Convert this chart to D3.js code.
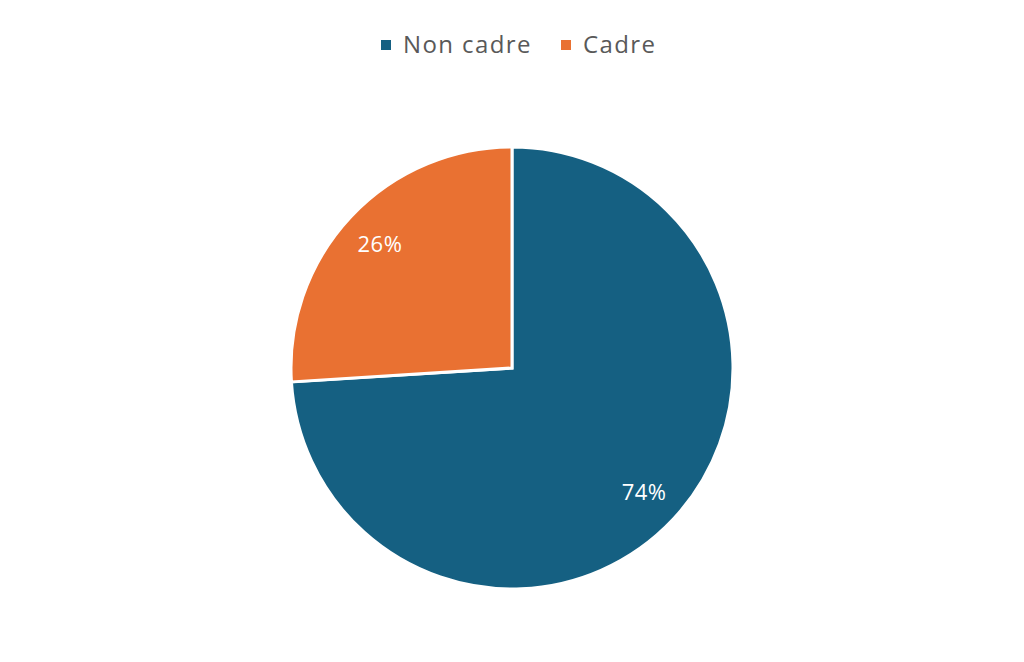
<!DOCTYPE html>
<html>
<head>
<meta charset="utf-8">
<script src="https://cdn.jsdelivr.net/npm/d3@7"></script>
<style>
  body { margin: 0; background: #fff; }
  svg { display: block; }
</style>
</head>
<body>
<svg></svg>
<script>
const categories = ["Non cadre", "Cadre"];
const values = [74, 26];
const colors = ["#156082", "#E97132"];

const width = 1024, height = 662;
const cx = 512, cy = 368, radius = 221;

const svg = d3.select("svg")
    .attr("width", width)
    .attr("height", height);

const pie = d3.pie().sort(null).value(d => d.value);
const arcs = pie(categories.map((c, i) => ({name: c, value: values[i]})));

const arc = d3.arc().innerRadius(0).outerRadius(radius);
const labelArc = d3.arc().innerRadius(radius * 0.82).outerRadius(radius * 0.82);

const total = d3.sum(values);

const g = svg.append("g")
    .attr("transform", "translate(" + cx + "," + cy + ")");

g.selectAll("path")
    .data(arcs)
    .enter()
    .append("path")
    .attr("d", arc)
    .attr("fill", (d, i) => colors[i])
    .attr("stroke", "#fff")
    .attr("stroke-width", 3)
    .attr("stroke-linejoin", "miter");

g.selectAll("text.label")
    .data(arcs)
    .enter()
    .append("text")
    .attr("class", "label")
    .attr("transform", d => "translate(" + labelArc.centroid(d) + ")")
    .attr("text-anchor", "middle")
    .attr("dy", "0.35em")
    .attr("fill", "#fff")
    .style("font-family", "'Open Sans', 'Liberation Sans', sans-serif")
    .style("font-size", "22px")
    .style("letter-spacing", "0.5px")
    .text(d => Math.round(d.data.value / total * 100) + "%");

// legend
const legend = svg.append("g").attr("transform", "translate(0,45)");
const legendX = [381, 561];
categories.forEach((c, i) => {
    const item = legend.append("g").attr("transform", "translate(" + legendX[i] + ",0)");
    item.append("rect")
        .attr("x", 0).attr("y", -5)
        .attr("width", 10).attr("height", 10)
        .attr("fill", colors[i]);
    item.append("text")
        .attr("x", 22)
        .attr("dy", "0.35em")
        .attr("fill", "#595959")
        .style("font-family", "'Open Sans', 'Liberation Sans', sans-serif")
        .style("font-size", "24px")
        .style("letter-spacing", "1.4px")
        .text(c);
});
</script>
</body>
</html>
